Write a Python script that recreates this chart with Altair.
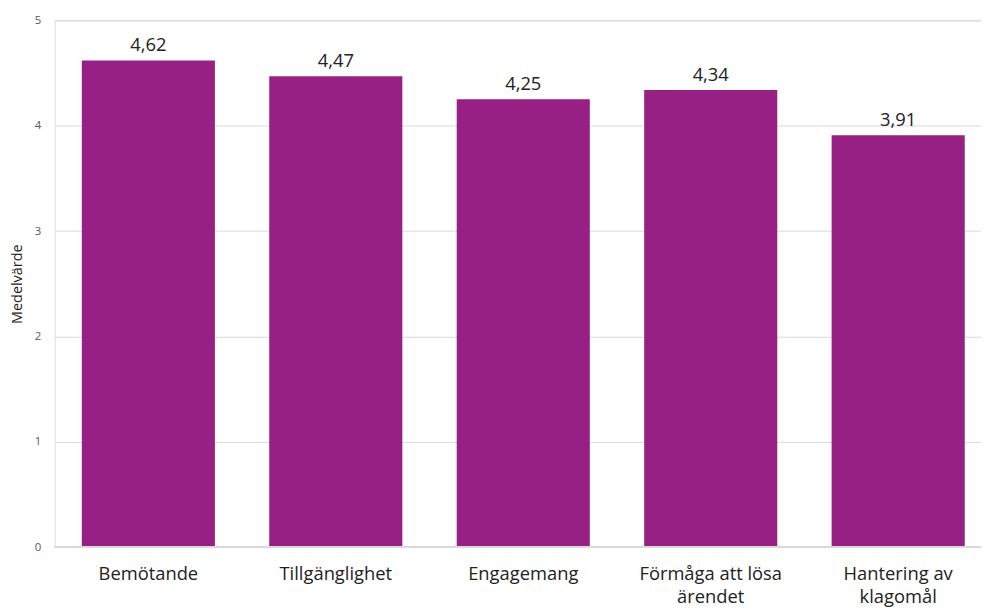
import altair as alt
import pandas as pd

categories = ["Bemötande", "Tillgänglighet", "Engagemang", "Förmåga att lösa ärendet", "Hantering av klagomål"]
label_lines = [["Bemötande"], ["Tillgänglighet"], ["Engagemang"], ["Förmåga att lösa", "ärendet"], ["Hantering av", "klagomål"]]
values = [4.62, 4.47, 4.25, 4.34, 3.91]
value_text = ["4,62", "4,47", "4,25", "4,34", "3,91"]
y_ticks = [0, 1, 2, 3, 4, 5]

df = pd.DataFrame({"kategori": categories, "medel": values, "text": value_text})

expr_parts = []
for c, lines in zip(categories, label_lines):
    arr = "[" + ",".join("'" + l + "'" for l in lines) + "]"
    expr_parts.append(f"datum.label == '{c}' ? {arr} : ")
label_expr = "".join(expr_parts) + "datum.label"

FONT = "Open Sans"
PURPLE = "#962083"

x_scale = alt.Scale(range=[0, 945], paddingInner=0.29, paddingOuter=0.145)

x = alt.X("kategori:N", sort=categories, title=None, scale=x_scale,
          axis=alt.Axis(labelExpr=label_expr, labelAngle=0, labelFont=FONT, labelFontSize=18.5,
                        labelColor="#222222", labelPadding=18, labelLineHeight=23,
                        ticks=False, domain=False))
y = alt.Y("medel:Q", title="Medelvärde",
          scale=alt.Scale(domain=[0, 5]),
          axis=alt.Axis(values=y_ticks, format="d", labelFont=FONT, labelFontSize=11.5, labelColor="#595959",
                        ticks=False, domain=False, gridColor="#d9d9d9", gridWidth=1,
                        labelPadding=14, titleFont=FONT, titleFontSize=14.5, titleFontWeight="normal",
                        titleColor="#222222", titlePadding=10))

bars = alt.Chart(df).mark_bar(color=PURPLE).encode(x=x, y=y)
texts = alt.Chart(df).mark_text(dy=-15, font=FONT, fontSize=18.5, color="#222222").encode(
    x=alt.X("kategori:N", sort=categories, scale=x_scale), y="medel:Q", text="text:N")
base = alt.Chart(df).mark_rule(color="#d9d9d9", strokeWidth=1.5).encode(
    y=alt.datum(0), x=alt.value(0), x2=alt.value(934))

chart = (bars + base + texts).properties(
    width=934, height=531,
    autosize=alt.AutoSizeParams(type="none"),
    padding={"left": 47, "top": 10, "right": 0, "bottom": 60},
).configure_view(stroke=None).configure(background="white")

chart.save("out.html", embed_options={"renderer": "svg", "actions": False})
